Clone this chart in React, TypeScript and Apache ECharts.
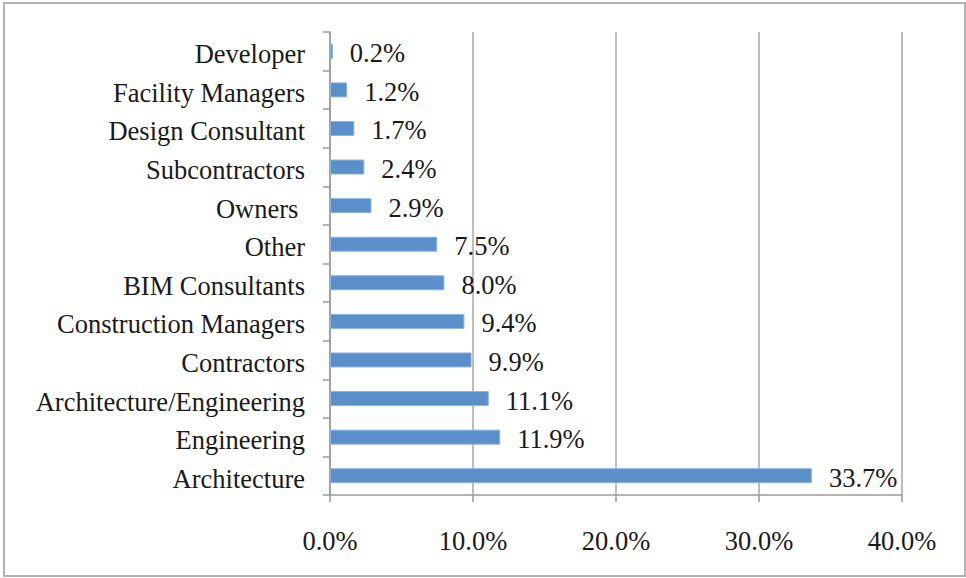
import React, { useEffect, useRef } from "react";
import * as echarts from "echarts";

const categories = [
  "Architecture",
  "Engineering",
  "Architecture/Engineering",
  "Contractors",
  "Construction Managers",
  "BIM Consultants",
  "Other",
  "Owners ",
  "Subcontractors",
  "Design Consultant",
  "Facility Managers",
  "Developer",
];
const values = [33.7, 11.9, 11.1, 9.9, 9.4, 8.0, 7.5, 2.9, 2.4, 1.7, 1.2, 0.2];
const xTicks = { min: 0, max: 40, interval: 10 };

const FONT = "'Liberation Serif', 'Times New Roman', serif";

export default function App() {
  const ref = useRef<HTMLDivElement>(null);
  useEffect(() => {
    if (!ref.current) return;
    const chart = echarts.init(ref.current, undefined, { renderer: "svg" });
    chart.setOption({
      animation: false,
      backgroundColor: "#ffffff",
      graphic: [
        {
          type: "rect",
          shape: { x: 4, y: 3, width: 961, height: 573 },
          style: { fill: "none", stroke: "#b3b3b3", lineWidth: 2 },
          silent: true,
        },
      ],
      grid: { left: 330, right: 64, top: 32, bottom: 83, containLabel: false },
      xAxis: {
        type: "value",
        min: xTicks.min,
        max: xTicks.max,
        interval: xTicks.interval,
        axisLine: { show: true, lineStyle: { color: "#9a9a9a", width: 1.5 } },
        axisTick: { show: true, length: 7, lineStyle: { color: "#9a9a9a", width: 1.5 } },
        splitLine: { show: true, lineStyle: { color: "#a8a8a8", width: 1.5 } },
        axisLabel: {
          formatter: (v: number) => v.toFixed(1) + "%",
          fontFamily: FONT,
          fontSize: 26.5,
          color: "#1a1a1a",
          margin: 32,
        },
      },
      yAxis: {
        type: "category",
        data: categories,
        axisLine: { show: true, lineStyle: { color: "#9a9a9a", width: 1.5 } },
        axisTick: { show: true, length: 7, lineStyle: { color: "#9a9a9a", width: 1.5 } },
        splitLine: { show: false },
        axisLabel: {
          fontFamily: FONT,
          fontSize: 26.5,
          color: "#1a1a1a",
          margin: 25,
          verticalAlign: "top",
          lineHeight: 6,
        },
      },
      series: [
        {
          type: "bar",
          data: values,
          barWidth: 15,
          itemStyle: { color: "#5b8fc9", borderColor: "#8db3dd", borderWidth: 1 },
          label: {
            show: true,
            position: "right",
            distance: 17,
            offset: [0, 2],
            formatter: (p: any) => Number(p.value).toFixed(1) + "%",
            fontFamily: FONT,
            fontSize: 26.5,
            color: "#1a1a1a",
          },
        },
      ],
    });
    return () => chart.dispose();
  }, []);
  return (
    <div
      ref={ref}
      style={{ position: "fixed", left: 0, top: 0, width: 966, height: 578 }}
    />
  );
}
